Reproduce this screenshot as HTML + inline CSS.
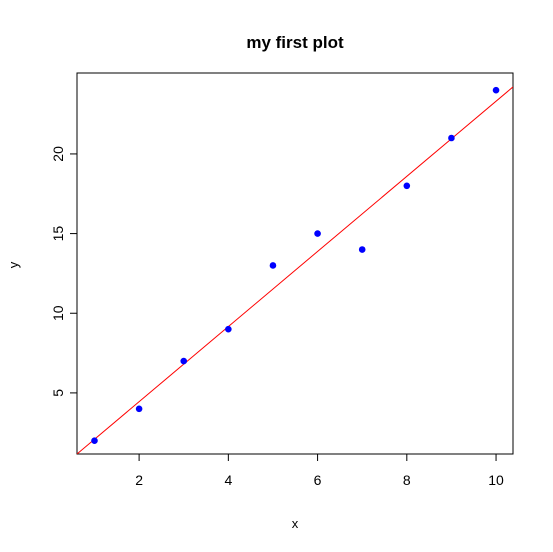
<!DOCTYPE html>
<html><head><meta charset="utf-8"><style>
html,body{margin:0;padding:0;background:#fff;width:553px;height:552px;overflow:hidden;}
svg{display:block;font-family:"Liberation Sans",Arial,sans-serif;}
</style></head><body>
<svg id="chart" width="553" height="552" viewBox="0 0 553 552">
<defs><clipPath id="plotclip"><rect x="77" y="73" width="436" height="381"/></clipPath></defs>
<rect width="553" height="552" fill="#fff"/>
<text x="295" y="48" text-anchor="middle" font-size="17" font-weight="bold">my first plot</text>
<rect x="77" y="73" width="436" height="381" fill="none" stroke="#000" stroke-width="1"/>
<g id="xaxis"></g>
<g id="yaxis"></g>
<text x="295" y="528" text-anchor="middle" font-size="13">x</text>
<text x="0" y="0" transform="translate(18,265) rotate(-90)" text-anchor="middle" font-size="13">y</text>
<g id="fit" clip-path="url(#plotclip)"></g>
<g id="points"></g>
</svg>
<script>
const xValues = [1,2,3,4,5,6,7,8,9,10];
const yValues = [2,4,7,9,13,15,14,18,21,24];
const xTicks = [2,4,6,8,10];
const yTicks = [5,10,15,20];
const xDomain = [0.608, 10.38];
const yDomain = [1.165, 25.08];

const NS = "http://www.w3.org/2000/svg";
const L=77,R=513,T=73,B=454;
function sx(v){return L+(v-xDomain[0])/(xDomain[1]-xDomain[0])*(R-L);}
function sy(v){return B-(v-yDomain[0])/(yDomain[1]-yDomain[0])*(B-T);}
function mk(tag,attrs,parent){const e=document.createElementNS(NS,tag);for(const k in attrs)e.setAttribute(k,attrs[k]);parent.appendChild(e);return e;}

const xa=document.getElementById('xaxis');
mk('line',{x1:sx(xTicks[0]),x2:sx(xTicks[xTicks.length-1]),y1:B,y2:B,stroke:'#000'},xa);
xTicks.forEach(t=>{
  const l=mk('line',{x1:sx(t),x2:sx(t),y1:B,y2:B+7,stroke:'#000'},xa);
  
  
  const tx=mk('text',{x:sx(t),y:B+31,'text-anchor':'middle','font-size':14},xa);
  tx.textContent=t;
  
  
});
const ya=document.getElementById('yaxis');
mk('line',{x1:L,x2:L,y1:sy(yTicks[0]),y2:sy(yTicks[yTicks.length-1]),stroke:'#000'},ya);
yTicks.forEach(t=>{
  const l=mk('line',{x1:L-7,x2:L,y1:sy(t),y2:sy(t),stroke:'#000'},ya);
  
  
  const tx=mk('text',{x:0,y:0,transform:`translate(${L-14},${sy(t)}) rotate(-90)`,'text-anchor':'middle','font-size':14},ya);
  tx.textContent=t;
  
  
});

const n=xValues.length;
const mx=xValues.reduce((a,b)=>a+b,0)/n, my=yValues.reduce((a,b)=>a+b,0)/n;
let sxy=0,sxx=0;for(let i=0;i<n;i++){sxy+=(xValues[i]-mx)*(yValues[i]-my);sxx+=(xValues[i]-mx)**2;}
const slope=sxy/sxx, icpt=my-slope*mx;
const fit=document.getElementById('fit');
const x0=xDomain[0], x1=xDomain[1];
const fl=mk('line',{x1:sx(x0),y1:sy(icpt+slope*x0),x2:sx(x1),y2:sy(icpt+slope*x1),stroke:'#ff0000','stroke-width':1},fit);



const pts=document.getElementById('points');
xValues.forEach((x,i)=>{
  const c=mk('circle',{cx:sx(x),cy:sy(yValues[i]),r:3.3,fill:'#0000ff'},pts);
  
  
});
</script>
</body></html>
